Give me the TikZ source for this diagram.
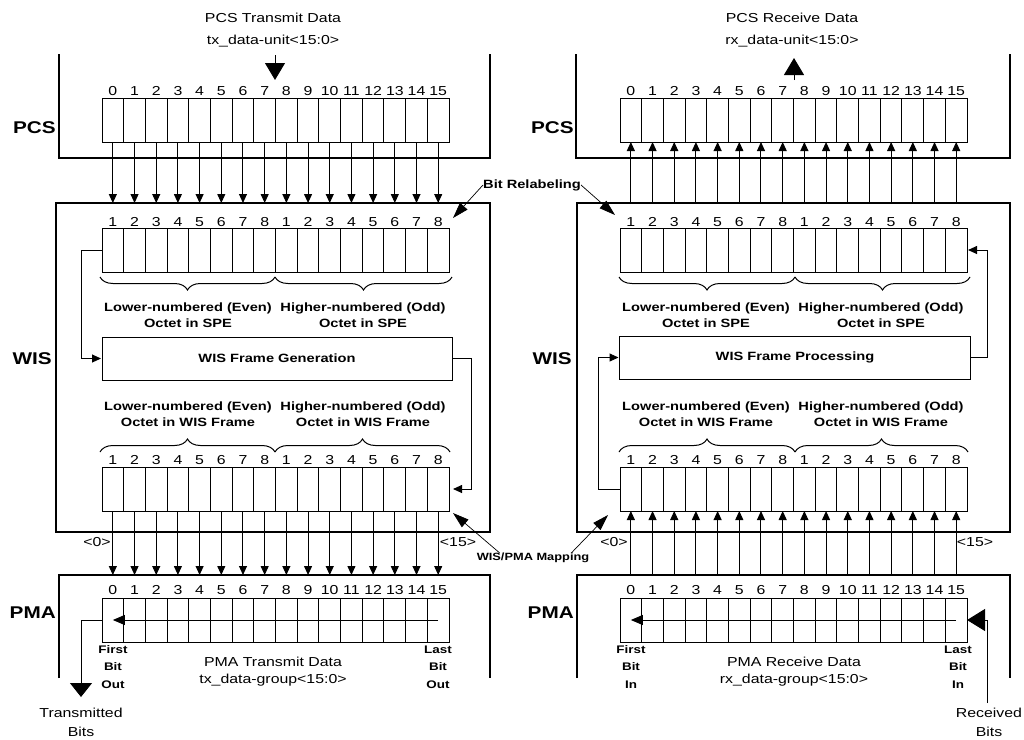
\documentclass[tikz,border=0pt]{standalone}
\usepackage{fontspec}
\setmainfont{Liberation Sans}[FakeStretch=1.22]
\usetikzlibrary{arrows.meta,decorations.pathreplacing}
\newcommand\bitreg[3]{%
  \foreach \i in {1,...,16}{%
    \node[cellst,anchor=north west] (#1-\i) at ({#2+(\i-1)*21.69},#3) {};}}
\begin{document}
\begin{tikzpicture}[x=1pt,y=-1pt,
  bound/.style={line width=2.6pt},
  cellst/.style={draw,line width=1pt,minimum width=21.69pt,minimum height=44pt,inner sep=0pt,outer sep=0pt},
  txt/.style={font=\fontsize{13}{19}\selectfont,inner sep=0pt},
  num/.style={font=\fontsize{13}{14}\selectfont,inner sep=0pt},
  btxt/.style={font=\fontsize{12}{16}\selectfont\bfseries,inner sep=0pt,align=center},
  stxt/.style={font=\fontsize{11}{17.5}\selectfont\bfseries,inner sep=0pt,align=center},
  big/.style={font=\fontsize{17}{20}\selectfont\bfseries,inner sep=0pt},
  conn/.style={line width=1pt},
  sarr/.style={conn,-{Triangle[length=9pt,width=8pt]}},
  marr/.style={conn,-{Triangle[length=12pt,width=10pt]}},
  barr/.style={conn,-{Triangle[length=17pt,width=20pt]}},
  leader/.style={line width=0.7pt,-{Triangle[length=16pt,width=10pt]}},
  brc/.style={line width=1pt,decorate,decoration={brace,amplitude=13pt}},
  procbox/.style={draw,line width=1pt,minimum width=350pt,minimum height=43pt,inner sep=0pt,outer sep=0pt,font=\fontsize{12}{14}\selectfont\bfseries},
  wisbox/.style={draw,bound,anchor=north west,minimum height=329pt,inner sep=0pt,outer sep=0pt}
]
\useasboundingbox (0,0) rectangle (1024,739);

% ================= LEFT (transmit) =================
\draw[bound] (59,54) -- (59,158) -- (490,158) -- (490,54);
\node[wisbox,minimum width=434pt] (Lwis) at (56,203) {};
\draw[bound] (59,678) -- (59,575) coordinate (Lpmatop) -- (490,575) -- (490,678);

\bitreg{Lpcs}{102}{98}
\bitreg{Lspe}{102}{228}
\bitreg{Lwf}{102}{467}
\bitreg{Lpma}{102}{598}

% ================= RIGHT (receive) =================
\draw[bound] (576,54) -- (576,158) -- (1010,158) -- (1010,54);
\node[wisbox,minimum width=433pt] (Rwis) at (577,203) {};
\draw[bound] (577,678) -- (577,575) coordinate (Rpmatop) -- (1010,575) -- (1010,678);

\bitreg{Rpcs}{620}{98}
\bitreg{Rspe}{620}{228}
\bitreg{Rwf}{620}{467}
\bitreg{Rpma}{620}{598}

% bit numbers and bit connectors
\foreach \i in {1,...,16}{%
  \pgfmathtruncatemacro\n{\i-1}%
  \pgfmathtruncatemacro\m{mod(\i-1,8)+1}%
  \pgfmathsetmacro\xc{102+(\i-0.5)*21.69}%
  \pgfmathsetmacro\xr{620+(\i-0.5)*21.69}%
  \node[num] (Lpcsn-\i) at (\xc,91) {\n};
  \node[num] (Lspen-\i) at (\xc,222) {\m};
  \node[num] (Lwfn-\i) at (\xc,460) {\m};
  \node[num] (Lpman-\i) at (\xc,590) {\n};
  \node[num] (Rpcsn-\i) at (\xr,91) {\n};
  \node[num] (Rspen-\i) at (\xr,222) {\m};
  \node[num] (Rwfn-\i) at (\xr,460) {\m};
  \node[num] (Rpman-\i) at (\xr,590) {\n};
  \draw[sarr] (Lpcs-\i.south) -- (Lpcs-\i.south |- Lwis.north);
  \draw[sarr] (Lwf-\i.south) -- (Lwf-\i.south |- Lpmatop);
  \draw[sarr] (Rpcs-\i.south |- Rwis.north) -- (Rpcs-\i.south);
  \draw[sarr] (Rwf-\i.south |- Rpmatop) -- (Rwf-\i.south);
}

% braces
\draw[brc] (275,277) -- (100,277);
\draw[brc] (452,277) -- (275,277);
\draw[brc] (100,452) -- (275,452);
\draw[brc] (275,452) -- (450,452);
\draw[brc] (795,277) -- (619,277);
\draw[brc] (970,277) -- (795,277);
\draw[brc] (619,452) -- (795,452);
\draw[brc] (795,452) -- (968,452);

% octet labels
\node[btxt] (Lspelo) at (188,315) {Lower-numbered (Even)\\Octet in SPE};
\node[btxt] (Lspehi) at (363,315) {Higher-numbered (Odd)\\Octet in SPE};
\node[btxt] (Lwflo) at (188,414) {Lower-numbered (Even)\\Octet in WIS Frame};
\node[btxt] (Lwfhi) at (363,414) {Higher-numbered (Odd)\\Octet in WIS Frame};
\node[btxt] (Rspelo) at (706,315) {Lower-numbered (Even)\\Octet in SPE};
\node[btxt] (Rspehi) at (881,315) {Higher-numbered (Odd)\\Octet in SPE};
\node[btxt] (Rwflo) at (706,414) {Lower-numbered (Even)\\Octet in WIS Frame};
\node[btxt] (Rwfhi) at (881,414) {Higher-numbered (Odd)\\Octet in WIS Frame};

% frame boxes and loops
\node[procbox] (Lgen) at (277,358.5) {WIS Frame Generation};
\draw[sarr,shorten >=1pt] (Lspe-1.west) -- ++(-21,0) |- (Lgen.west);
\draw[sarr,shorten >=4pt] (Lgen.east) -- ++(19,0) |- (Lwf-16.east);
\node[procbox,minimum width=351pt] (Rproc) at (795,357.5) {WIS Frame Processing};
\draw[sarr,shorten >=1pt] (Rproc.east) -- ++(17,0) |- (Rspe-16.east);
\draw[sarr,shorten >=1pt] (Rwf-1.west) -- ++(-22,0) |- (Rproc.west);

% PMA serial arrows
\draw[marr] (Lpma-16.center) -- (Lpma-1.center);
\draw[marr] (Rpma-16.center) -- (Rpma-1.center);
\coordinate (Ltxend) at (81,697);
\draw[conn,-{Triangle[length=14pt,width=22pt]}] (Lpma-1.west) -| (Ltxend);
\node[txt,align=center] (Ltx) at (81,722) {Transmitted\\Bits};
\node[txt,align=center] (Rrx) at (989,722) {Received\\Bits};
\coordinate (Rrxtop) at (987,703);
\draw[conn,-{Triangle[length=18pt,width=22pt]}] (Rrxtop) |- (Rpma-16.east);

\node[stxt] (Lfirst) at (113,667) {First\\Bit\\Out};
\node[stxt] (Llast) at (438,667) {Last\\Bit\\Out};
\node[stxt] (Rfirst) at (631,667) {First\\Bit\\In};
\node[stxt] (Rlast) at (958,667) {Last\\Bit\\In};
\node[txt] (Lpmad) at (273,662) {PMA Transmit Data};
\node[txt] (Lpmag) at (273,680) {tx\_data-group<15:0>};
\node[txt] (Rpmad) at (794,662) {PMA Receive Data};
\node[txt] (Rpmag) at (794,680) {rx\_data-group<15:0>};

% top labels and arrows
\node[txt] (Lpcsd) at (273,18) {PCS Transmit Data};
\node[txt] (Lpcsu) at (273,41) {tx\_data-unit<15:0>};
\node[txt] (Rpcsd) at (792,18) {PCS Receive Data};
\node[txt] (Rpcsu) at (792,41) {rx\_data-unit<15:0>};
\coordinate (Ltopa) at (275,55);
\coordinate (Ltopb) at (275,80);
\draw[barr] (Ltopa) -- (Ltopb);
\coordinate (Rtopa) at (794,80);
\coordinate (Rtopb) at (794,58);
\draw[barr] (Rtopa) -- (Rtopb);

% layer labels
\node[big,anchor=east] (LPCS) at (56,128) {PCS};
\node[big,anchor=east] (LWIS) at (52,359) {WIS};
\node[big,anchor=east] (LPMA) at (56,613) {PMA};
\node[big,anchor=east] (RPCS) at (574,128) {PCS};
\node[big,anchor=east] (RWIS) at (572,359) {WIS};
\node[big,anchor=east] (RPMA) at (574,613) {PMA};

% bit index labels
\node[txt] (L0) at (97,542) {<0>};
\node[txt] (L15) at (458,542) {<15>};
\node[txt] (R0) at (614,542) {<0>};
\node[txt] (R15) at (975,542) {<15>};

% middle callouts
\node[btxt] (relab) at (532,185) {Bit Relabeling};
\coordinate (relabL) at (453,218);
\coordinate (relabR) at (615,215);
\draw[leader] (relab.west) -- (relabL);
\draw[leader] (relab.east) -- (relabR);
\node[btxt,font=\fontsize{10.5}{14}\selectfont\bfseries] (map) at (533,558) {WIS/PMA Mapping};
\coordinate (mapL) at (453,513);
\coordinate (mapR) at (608,515);
\draw[leader] ([xshift=23pt]map.north west) -- (mapL);
\draw[leader] ([xshift=-18pt]map.north east) -- (mapR);
\end{tikzpicture}
\end{document}
